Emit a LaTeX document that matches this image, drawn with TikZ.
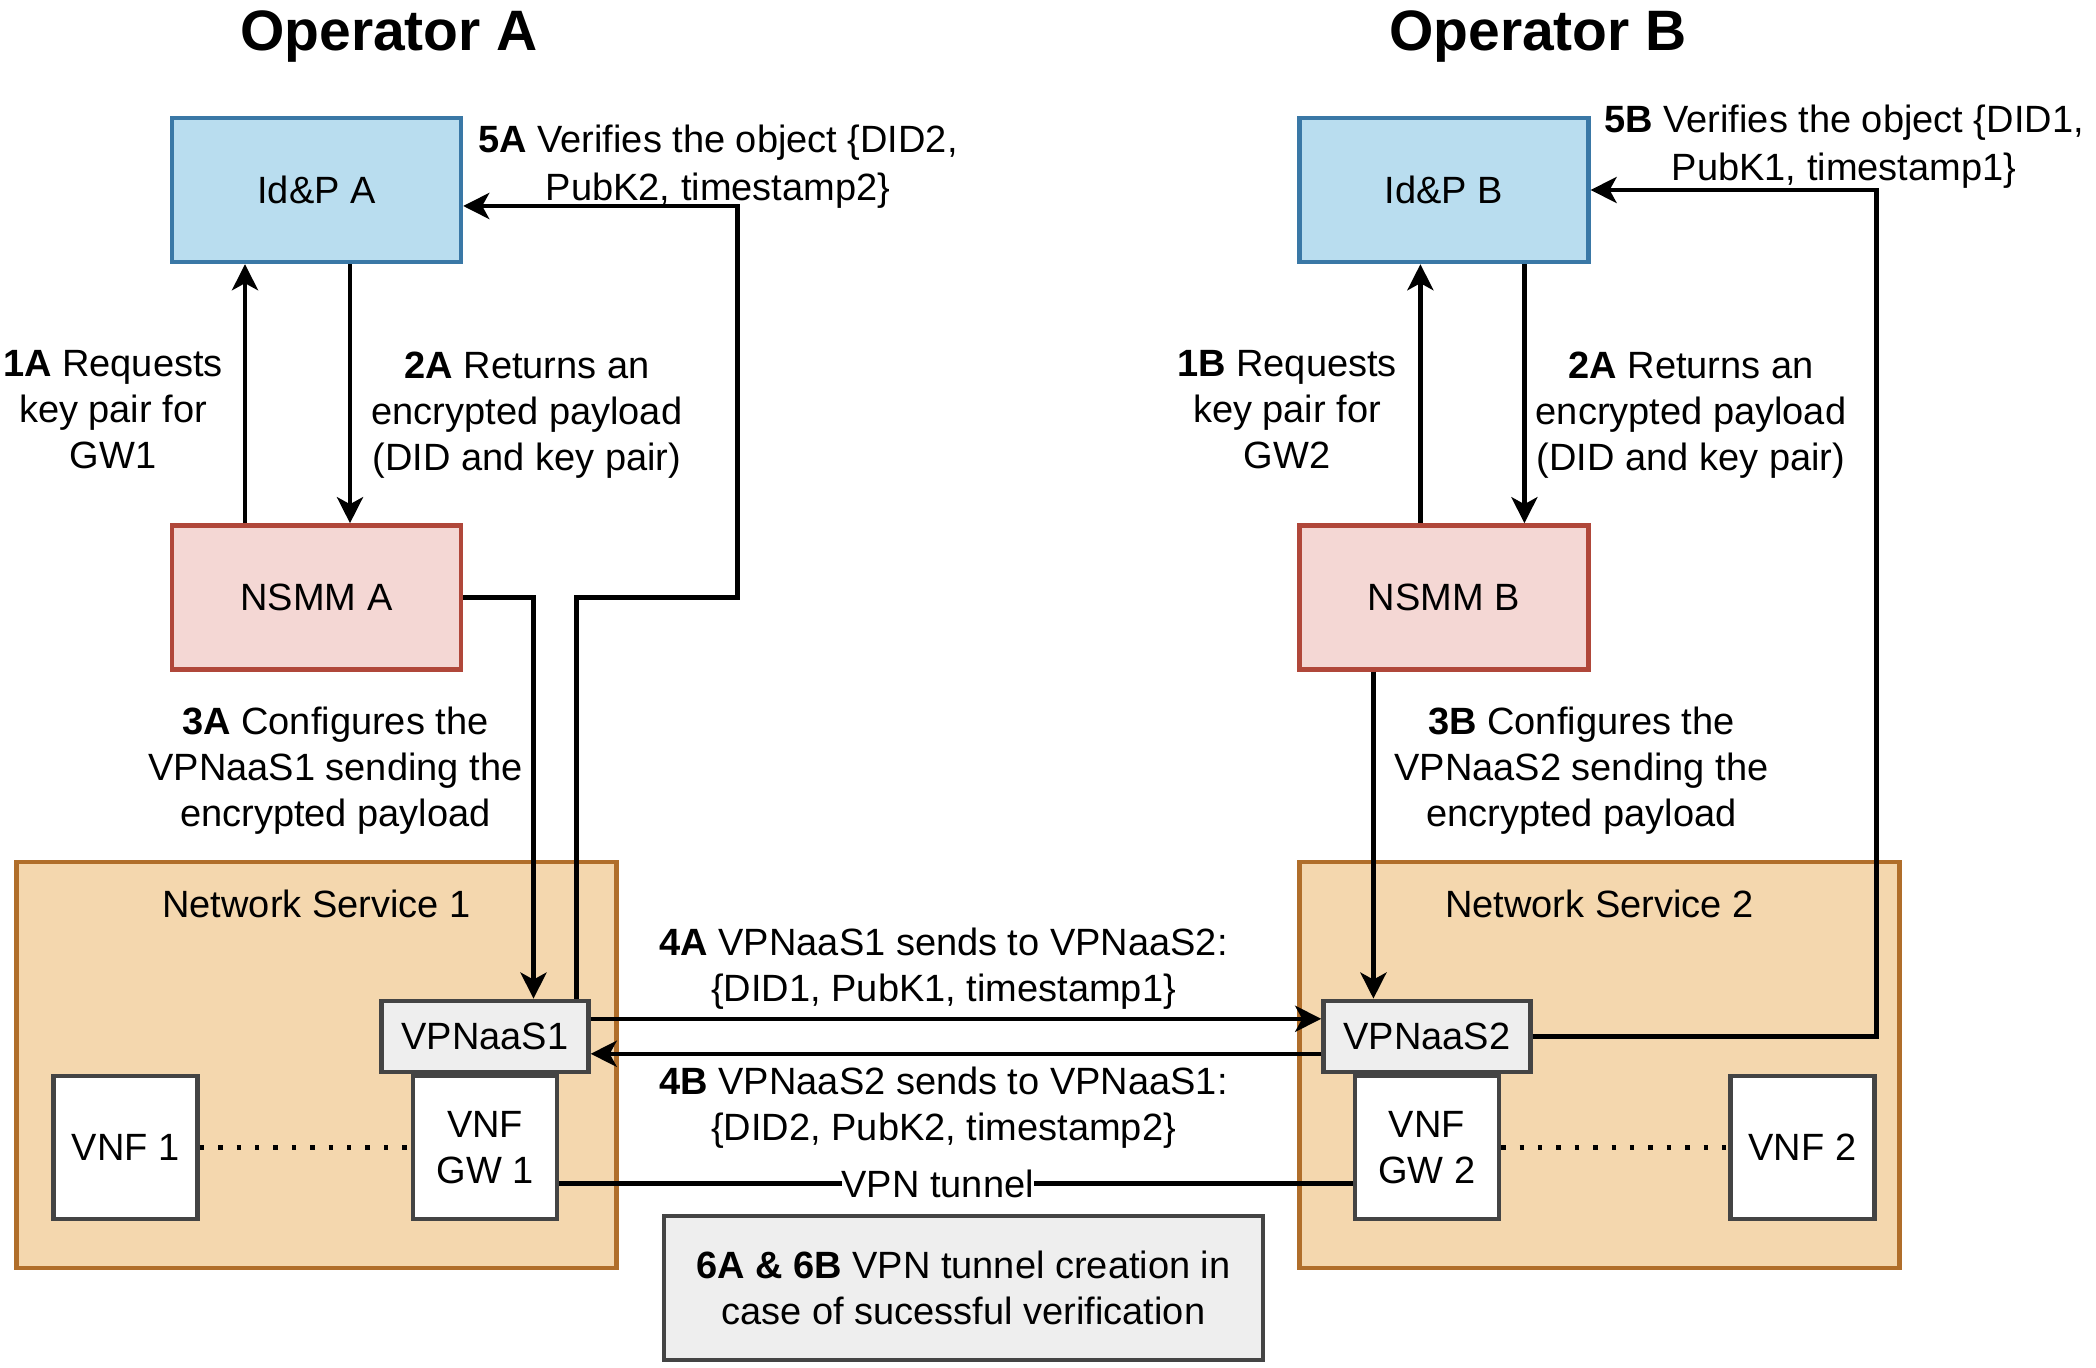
\documentclass[tikz,border=0pt]{standalone}
\usepackage{fontspec}
\setmainfont{Liberation Sans}
\usetikzlibrary{arrows.meta,positioning,calc}
\definecolor{idpfill}{HTML}{B9DDEF}
\definecolor{idpline}{HTML}{3A78A6}
\definecolor{nsmmfill}{HTML}{F4D7D4}
\definecolor{nsmmline}{HTML}{B0473A}
\definecolor{svcfill}{HTML}{F4D7AE}
\definecolor{svcline}{HTML}{B06E2A}
\definecolor{grayfill}{HTML}{EEEEEE}
\definecolor{grayline}{HTML}{444444}

\begin{document}
\begin{tikzpicture}[
    font=\fontsize{19}{23}\selectfont,
    node distance=10pt and 10pt,
    box/.style={draw, line width=2.2pt, align=center, minimum width=144.5pt, minimum height=72pt, inner sep=2pt},
    idp/.style={box, fill=idpfill, draw=idpline},
    nsmm/.style={box, fill=nsmmfill, draw=nsmmline},
    svc/.style={draw=svcline, fill=svcfill, line width=2.2pt, minimum width=300pt, minimum height=203pt},
    vpnbox/.style={draw=grayline, fill=grayfill, line width=2.2pt, minimum width=103.5pt, minimum height=35.5pt, inner sep=1pt},
    vnf/.style={draw=grayline, fill=white, line width=2.2pt, align=center, minimum width=72pt, minimum height=71.5pt, inner sep=1pt},
    note/.style={draw=grayline, fill=grayfill, line width=2.2pt, align=center, minimum width=299.5pt, minimum height=72pt},
    lbl/.style={align=center, inner sep=0pt},
    title/.style={font=\fontsize{28.5}{32}\selectfont\bfseries},
    conn/.style={line width=2.3pt},
    dotline/.style={line width=2.4pt, dash pattern=on 2.2pt off 7pt},
    >={Stealth[length=13pt, width=13pt, inset=3.5pt]}
]
\useasboundingbox (0,0) rectangle (1048pt,-684pt);
\node[title, anchor=base] (opA) at (194.5pt,-25.4pt) {Operator A};
\node[title, anchor=base] (opB) at (769pt,-25.4pt) {Operator B};
\node[idp] (idpA) at (158.25pt,-95pt) {Id\&P A};
\node[nsmm, below=129.5pt of idpA] (nsmmA) {NSMM A};
\node[idp, right=417pt of idpA] (idpB) {Id\&P B};
\node[nsmm, below=129.5pt of idpB] (nsmmB) {NSMM B};
\node[svc, below=94pt of nsmmA] (ns1) {};
\node[svc, below right=94pt and 0pt of nsmmB.south west] (ns2) {};
\node (ns1lbl) at ([yshift=-22pt]ns1.north) {Network Service 1};
\node (ns2lbl) at ([yshift=-22pt]ns2.north) {Network Service 2};
\node[vpnbox, below left=69.5pt and 14pt of ns1.north east] (vpn1) {VPNaaS1};
\node[vnf, below=0pt of vpn1] (gw1) {VNF\\GW 1};
\node[vnf, left=105.5pt of gw1] (vnf1) {VNF 1};
\node[vpnbox, below right=69.5pt and 12pt of ns2.north west] (vpn2) {VPNaaS2};
\node[vnf, below=0pt of vpn2] (gw2) {VNF\\GW 2};
\node[vnf, right=113.5pt of gw2] (vnf2) {VNF 2};
\node[note, right=21.5pt of ns1.south east, yshift=-9pt] (note) {\textbf{6A \& 6B} VPN tunnel creation in\\case of sucessful verification};
% step labels
\node[lbl] (l1A) at (56.5pt,-205pt) {\textbf{1A} Requests\\key pair for\\GW1};
\node[lbl] (l2A) at (263.5pt,-207.5pt) {\textbf{2A} Returns an\\encrypted payload\\(DID and key pair)};
\node[lbl] (l1B) at (643.5pt,-205pt) {\textbf{1B} Requests\\key pair for\\GW2};
\node[lbl] (l2B) at (845.5pt,-207.5pt) {\textbf{2A} Returns an\\encrypted payload\\(DID and key pair)};
\node[lbl] (l5A) at (359pt,-83.5pt) {\textbf{5A} Verifies the object \{DID2,\\[1pt]PubK2, timestamp2\}};
\node[lbl] (l5B) at (922pt,-73.5pt) {\textbf{5B} Verifies the object \{DID1,\\[1pt]PubK1, timestamp1\}};
\node[lbl] (l3A) at (167.7pt,-385.5pt) {\textbf{3A} Configures the\\VPNaaS1 sending the\\encrypted payload};
\node[lbl] (l3B) at (790.7pt,-385.5pt) {\textbf{3B} Configures the\\VPNaaS2 sending the\\encrypted payload};
\node[lbl] (l4A) at (471.8pt,-484.5pt) {\textbf{4A} VPNaaS1 sends to VPNaaS2:\\\{DID1, PubK1, timestamp1\}};
\node[lbl] (l4B) at (471.8pt,-554pt) {\textbf{4B} VPNaaS2 sends to VPNaaS1:\\\{DID2, PubK2, timestamp2\}};
% connectors
\draw[conn, ->] ([xshift=-35.75pt]nsmmA.north) -- ([xshift=-35.75pt]idpA.south);
\draw[conn, ->] ([xshift=16.75pt]idpA.south) -- ([xshift=16.75pt]nsmmA.north);
\draw[conn, ->] ([xshift=-11.75pt]nsmmB.north) -- ([xshift=-11.75pt]idpB.south);
\draw[conn, ->] ([xshift=40.25pt]idpB.south) -- ([xshift=40.25pt]nsmmB.north);
\draw[conn, ->] (nsmmA.east) -| ([xshift=24.25pt]vpn1.north);
\draw[conn, ->] ([xshift=45.75pt]vpn1.north) |- ([xshift=137pt]nsmmA.east) |- ([yshift=-8pt]idpA.east);
\draw[conn, ->] ([xshift=-35.25pt]nsmmB.south) -- ([xshift=-35.25pt]nsmmB.south |- vpn2.north);
\draw[conn, ->] (vpn2.east) -| ([xshift=143pt]idpB.east) -- (idpB.east);
\draw[conn, ->] ([yshift=8.75pt]vpn1.east) -- ([yshift=8.75pt]vpn1.east -| vpn2.west);
\draw[conn, ->] ([yshift=-8.75pt]vpn2.west) -- ([yshift=-8.75pt]vpn2.west -| vpn1.east);
\draw[conn] ([yshift=-18pt]gw1.east) -- node[pos=0.477, fill=white, inner sep=0pt] (tun) {VPN tunnel} ([yshift=-18pt]gw1.east -| gw2.west);
\draw[dotline] (vnf1) -- (gw1);
\draw[dotline] (gw2) -- (vnf2);
\end{tikzpicture}
\end{document}
